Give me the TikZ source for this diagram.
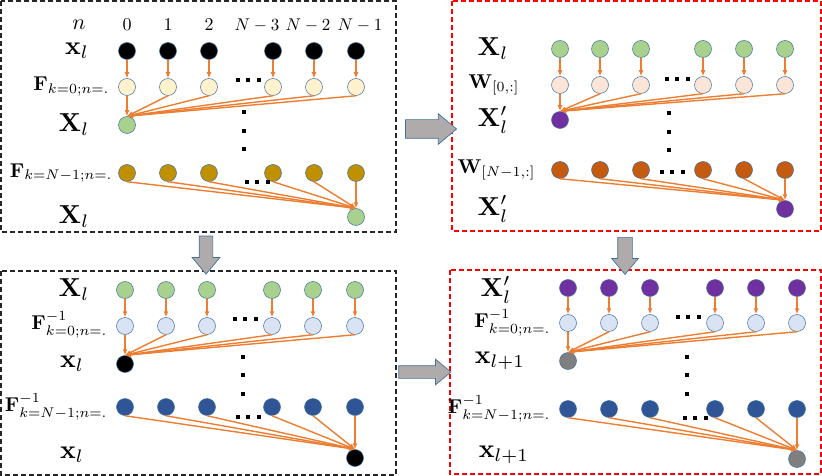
\documentclass[tikz,border=0pt]{standalone}
\usepackage{amsmath}
\usepackage{amssymb}
\usepackage{graphicx}
\usepackage{tikz}
\usetikzlibrary{arrows.meta,shapes.arrows}
\definecolor{edgeor}{HTML}{ED7D31}
\definecolor{rim}{HTML}{41719C}
\definecolor{arrgray}{HTML}{AFABAB}
\definecolor{cyel}{HTML}{FFF2CC}
\definecolor{cgrn}{HTML}{A9D18E}
\definecolor{cgold}{HTML}{BF9000}
\definecolor{cpch}{HTML}{FBE5D6}
\definecolor{cbrn}{HTML}{C55A11}
\definecolor{cpur}{HTML}{7030A0}
\definecolor{cltb}{HTML}{DAE3F3}
\definecolor{cdkb}{HTML}{2F5597}
\definecolor{cgry}{HTML}{7F7F7F}
\tikzset{%
    vtx/.style={circle,draw=rim,line width=0.5pt,inner sep=0pt,minimum size=17pt}
}
\newcommand{\mlab}[2]{\scalebox{#1}{$#2$}}
\newcommand{\rowdots}[2]{\foreach \d in {-1,0,1} \fill (#1+\d*10.5-2,#2-2) rectangle ++(4,4);}
\newcommand{\coldots}[2]{\foreach \d in {-1,0,1} \fill (#1-2,#2+\d*18.5-2) rectangle ++(4,4);}

\begin{document}
\begin{tikzpicture}[
        x=1pt, y=-1pt,
        edge/.style={draw=edgeor,line width=1.4pt,-{Latex[length=6pt,width=5pt]}},
        panel/.style={dash pattern=on 5pt off 3pt,line width=1.2pt},
        blockar/.style={single arrow,draw=rim,fill=arrgray,line width=0.7pt,
            minimum width=0pt,single arrow tip angle=80}
        ]
        \useasboundingbox (0,0) rectangle (822,476);

        % boxes
        \draw[panel,black!85] (1,1) rectangle (396,232);
        \draw[panel,red] (452,1) rectangle (821,231);
        \draw[panel,black!85] (1,271) rectangle (396,475);
        \draw[panel,red] (450,270) rectangle (821,474);

        % big arrows between the boxes
        \node[blockar,inner sep=9pt,single arrow head extend=6pt,minimum height=51pt] (r1) at (425.5,129){};
        \node[blockar,inner sep=6.5pt,single arrow head extend=7pt,minimum height=38pt,shape border rotate=270] (d1) at (206,251){};
        \node[blockar,inner sep=7pt,single arrow head extend=6pt,minimum height=37pt,shape border rotate=270] (d2) at (625,251.5){};
        \node[blockar,inner sep=6pt,single arrow head extend=6.5pt,minimum height=52pt] (r2) at (421,372){};

        % top left: DFT
        \node (n1) at (79,25) {\mlab{2.2}{n}};
        \node (c0) at (127,25) {\mlab{1.8}{0}};
        \node (c1) at (168,25) {\mlab{1.8}{1}};
        \node (c2) at (209,25) {\mlab{1.8}{2}};
        \node (c3) at (257,25) {\mlab{1.7}{N-3}};
        \node (c4) at (308,25) {\mlab{1.7}{N-2}};
        \node (c5) at (360,25) {\mlab{1.7}{N-1}};
        \node (la1) at (77,51) {\mlab{2.6}{\mathbf{x}_l}};
        \node[anchor=east] (lb1) at (113,87) {\mlab{2.0}{\mathbf{F}_{k=0;n=.}}};
        \node (lc1) at (74,125) {\mlab{2.6}{\mathbf{X}_l}};
        \node[anchor=east] (ld1) at (116,173) {\mlab{2.0}{\mathbf{F}_{k=N-1;n=.}}};
        \node (le1) at (74,217) {\mlab{2.6}{\mathbf{X}_l}};
        \foreach \i/\x in {0/127,1/168,2/209,3/273,4/314,5/356}{
            \node[vtx,fill=black] (\i a1) at (\x,51){};
            \node[vtx,fill=cyel] (\i b1) at (\x,87){};
            \node[vtx,fill=cgold] (\i d1) at (\x,173){};
        }
        \node[vtx,fill=cgrn] (0c1) at (127,125){};
        \node[vtx,fill=cgrn] (5e1) at (356,217){};
        \foreach \i in {0,...,5}{
            \draw[edge] (\i a1) -- (\i b1);
            \draw[edge] (\i b1.south) -- (0c1.north);
            \draw[edge] (\i d1.south) -- (5e1.north);
        }
        \rowdots{248}{80}
        \coldots{244}{131}
        \rowdots{257}{182}

        % top right: mixing
        \node (la2) at (493,49) {\mlab{2.6}{\mathbf{X}_l}};
        \node[anchor=east] (lb2) at (523,85) {\mlab{2.0}{\mathbf{W}_{[0,:]}}};
        \node (lc2) at (493,120) {\mlab{2.6}{\mathbf{X}'_l}};
        \node[anchor=east] (ld2) at (539,170) {\mlab{2.0}{\mathbf{W}_{[N-1,:]}}};
        \node (le2) at (493,209) {\mlab{2.6}{\mathbf{X}'_l}};
        \foreach \i/\x in {0/560,1/600,2/641,3/703,4/744,5/785}{
            \node[vtx,fill=cgrn] (\i a2) at (\x,49){};
            \node[vtx,fill=cpch] (\i b2) at (\x,85){};
            \node[vtx,fill=cbrn] (\i d2) at (\x,170){};
        }
        \node[vtx,fill=cpur] (0c2) at (560,120){};
        \node[vtx,fill=cpur] (5e2) at (785,209){};
        \foreach \i in {0,...,5}{
            \draw[edge] (\i a2) -- (\i b2);
            \draw[edge] (\i b2.south) -- (0c2.north);
            \draw[edge] (\i d2.south) -- (5e2.north);
        }
        \rowdots{677}{79}
        \coldots{669}{132}
        \rowdots{672}{172}

        % bottom left: inverse DFT
        \node (la3) at (74,290) {\mlab{2.6}{\mathbf{X}_l}};
        \node[anchor=east] (lb3) at (111,325) {\mlab{2.0}{\mathbf{F}^{-1}_{k=0;n=.}}};
        \node (lc3) at (72,364) {\mlab{2.6}{\mathbf{x}_l}};
        \node[anchor=east] (ld3) at (111,407) {\mlab{2.0}{\mathbf{F}^{-1}_{k=N-1;n=.}}};
        \node (le3) at (72,455) {\mlab{2.6}{\mathbf{x}_l}};
        \foreach \i/\x in {0/125,1/166,2/207,3/272,4/313,5/355}{
            \node[vtx,fill=cgrn] (\i a3) at (\x,290){};
            \node[vtx,fill=cltb] (\i b3) at (\x,326){};
            \node[vtx,fill=cdkb] (\i d3) at (\x,407){};
        }
        \node[vtx,fill=black] (0c3) at (125,364){};
        \node[vtx,fill=black] (5e3) at (355,458){};
        \foreach \i in {0,...,5}{
            \draw[edge] (\i a3) -- (\i b3);
            \draw[edge] (\i b3.south) -- (0c3.north);
            \draw[edge] (\i d3.south) -- (5e3.north);
        }
        \rowdots{245}{319}
        \coldots{243}{375}
        \rowdots{248}{417}

        % bottom right: inverse DFT of the mixed signal
        \node (la4) at (496,290) {\mlab{2.6}{\mathbf{X}'_l}};
        \node[anchor=east] (lb4) at (554,323) {\mlab{2.0}{\mathbf{F}^{-1}_{k=0;n=.}}};
        \node (lc4) at (500,361) {\mlab{2.6}{\mathbf{x}_{l+1}}};
        \node[anchor=east] (ld4) at (554,409) {\mlab{2.0}{\mathbf{F}^{-1}_{k=N-1;n=.}}};
        \node (le4) at (504,455) {\mlab{2.6}{\mathbf{x}_{l+1}}};
        \foreach \i/\x in {0/568,1/609,2/650,3/715,4/756,5/797}{
            \node[vtx,fill=cpur] (\i a4) at (\x,288){};
            \node[vtx,fill=cltb] (\i b4) at (\x,323){};
            \node[vtx,fill=cdkb] (\i d4) at (\x,409){};
        }
        \node[vtx,fill=cgry] (0c4) at (568,361){};
        \node[vtx,fill=cgry] (5e4) at (797,459){};
        \foreach \i in {0,...,5}{
            \draw[edge] (\i a4) -- (\i b4);
            \draw[edge] (\i b4.south) -- (0c4.north);
            \draw[edge] (\i d4.south) -- (5e4.north);
        }
        \rowdots{688}{317}
        \coldots{687}{375}
        \rowdots{695}{418}
    \end{tikzpicture}
\end{document}
